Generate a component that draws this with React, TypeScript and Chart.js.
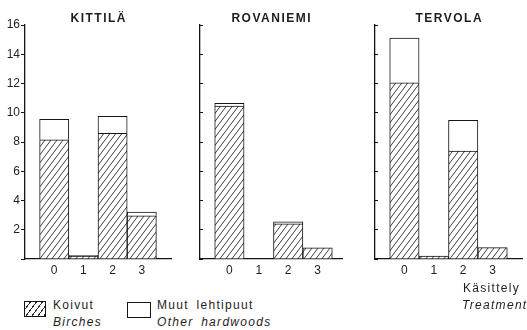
import React, { useEffect, useRef } from "react";
import { Chart, registerables } from "chart.js";

Chart.register(...registerables);

// Treatment codes on the x axis
const treatments = [0, 1, 2, 3];
const siteNames = ["KITTILÄ", "ROVANIEMI", "TERVOLA"];

// Stem counts per treatment: birches (hatched) and other hardwoods (open) stacked on top
const kittilaBirches = [8.15, 0.2, 8.6, 2.95];
const kittilaOther = [1.4, 0.05, 1.15, 0.25];
const rovaniemiBirches = [10.45, null, 2.4, 0.77];
const rovaniemiOther = [0.2, null, 0.15, null];
const tervolaBirches = [12.05, 0.2, 7.38, 0.78];
const tervolaOther = [3.05, null, 2.1, null];

const yMax = 16;
const yStep = 2;

const INK = "#141414";
const TEXT = "#1e1e1e";
const FONT = "'Liberation Sans', Arial, Helvetica, sans-serif";

type PanelLayout = {
  left: number;
  width: number;
  axisWidth: number;
  padRight: number;
  xMax: number;
  showYLabels: boolean;
};

const HEIGHT = 285;
const TOP_PAD = 25;
const X_AXIS_H = 26;

function makeHatch(): CanvasPattern | string {
  const c = document.createElement("canvas");
  const w = 6;
  const h = 8;
  c.width = w;
  c.height = h;
  const g = c.getContext("2d");
  if (!g) return "#fff";
  g.fillStyle = "#fff";
  g.fillRect(0, 0, w, h);
  g.strokeStyle = "#2a2a2a";
  g.lineWidth = 0.9;
  for (const dx of [-w, 0, w]) {
    g.beginPath();
    g.moveTo(dx, h);
    g.lineTo(dx + w, 0);
    g.stroke();
  }
  return g.createPattern(c, "repeat") || "#fff";
}

function SitePanel(props: {
  name: string;
  birches: (number | null)[];
  other: (number | null)[];
  layout: PanelLayout;
}) {
  const { name, birches, other, layout } = props;
  const ref = useRef<HTMLCanvasElement | null>(null);

  useEffect(() => {
    const canvas = ref.current;
    if (!canvas) return;
    const hatch = makeHatch();
    const chart = new Chart(canvas, {
      type: "bar",
      data: {
        datasets: [
          {
            label: "Koivut",
            data: treatments.map((t, i) => ({ x: t, y: birches[i] })) as any,
            backgroundColor: hatch as any,
            borderColor: INK,
            borderWidth: 1,
            barPercentage: 1,
            categoryPercentage: 1,
          },
          {
            label: "Muut lehtipuut",
            data: treatments.map((t, i) => ({ x: t, y: other[i] })) as any,
            backgroundColor: "#ffffff",
            borderColor: INK,
            borderWidth: 1,
            barPercentage: 1,
            categoryPercentage: 1,
          },
        ],
      },
      options: {
        responsive: false,
        animation: false,
        devicePixelRatio: 1,
        events: [],
        layout: {
          padding: { top: TOP_PAD, right: layout.padRight, left: 0, bottom: 0 },
        },
        plugins: {
          legend: { display: false },
          tooltip: { enabled: false },
          title: { display: false },
        },
        scales: {
          x: {
            type: "linear",
            min: -1,
            max: layout.xMax,
            stacked: true,
            offset: false,
            afterBuildTicks: (s: any) => {
              s.ticks = treatments.map((v) => ({ value: v }));
            },
            afterFit: (s: any) => {
              s.height = X_AXIS_H;
            },
            grid: { display: false, drawTicks: false },
            border: { display: true, color: INK, width: 1.3 },
            ticks: {
              padding: 4,
              color: TEXT,
              font: { family: FONT, size: 12 },
              maxRotation: 0,
              autoSkip: false,
            },
          },
          y: {
            min: 0,
            max: yMax,
            stacked: true,
            afterFit: (s: any) => {
              s.width = layout.axisWidth;
            },
            ticks: {
              display: layout.showYLabels,
              stepSize: yStep,
              padding: 1,
              color: TEXT,
              font: { family: FONT, size: 12 },
              callback: (v: any) => (Number(v) === 0 ? "" : String(v)),
            },
            grid: {
              display: true,
              drawOnChartArea: false,
              drawTicks: true,
              tickLength: layout.showYLabels ? 4 : -3,
              color: INK,
              lineWidth: 1,
            },
            border: { display: true, color: INK, width: 1.3 },
          },
        },
      } as any,
    });
    return () => chart.destroy();
  }, [birches, other, layout]);

  const plotLeft = layout.axisWidth;
  const plotRight = layout.width - layout.padRight;
  const center = layout.left + (plotLeft + plotRight) / 2;

  return (
    <>
      <canvas
        ref={ref}
        width={layout.width}
        height={HEIGHT}
        style={{
          position: "absolute",
          left: layout.left,
          top: 0,
          width: layout.width,
          height: HEIGHT,
        }}
      />
      <div
        style={{
          position: "absolute",
          left: center - 70,
          width: 140,
          top: 11,
          lineHeight: "14px",
          textAlign: "center",
          fontSize: 12,
          fontWeight: "bold",
          letterSpacing: "1.5px",
          paddingLeft: "1.5px",
          boxSizing: "border-box",
        }}
      >
        {name}
      </div>
    </>
  );
}

const panelLayouts: PanelLayout[] = [
  { left: 0, width: 180, axisWidth: 25, padRight: 9, xMax: 4, showYLabels: true },
  { left: 180, width: 170, axisWidth: 20, padRight: 8, xMax: 3.83, showYLabels: false },
  { left: 350, width: 177, axisWidth: 25, padRight: 5, xMax: 4, showYLabels: false },
];

const textLine = (
  text: string,
  left: number,
  centerY: number,
  italic = false
): React.ReactElement => (
  <div
    key={text}
    style={{
      position: "absolute",
      left,
      top: centerY - 7,
      lineHeight: "14px",
      fontSize: 12,
      letterSpacing: "1.3px",
      wordSpacing: "3px",
      fontStyle: italic ? "italic" : "normal",
      whiteSpace: "nowrap",
    }}
  >
    {text}
  </div>
);

export default function App() {
  return (
    <div
      style={{
        position: "absolute",
        left: 0,
        top: 0,
        width: 527,
        height: 330,
        background: "#ffffff",
        overflow: "hidden",
        fontFamily: FONT,
        color: TEXT,
      }}
    >
      <SitePanel name={siteNames[0]} birches={kittilaBirches} other={kittilaOther} layout={panelLayouts[0]} />
      <SitePanel name={siteNames[1]} birches={rovaniemiBirches} other={rovaniemiOther} layout={panelLayouts[1]} />
      <SitePanel name={siteNames[2]} birches={tervolaBirches} other={tervolaOther} layout={panelLayouts[2]} />

      {/* legend swatches */}
      <div
        style={{
          position: "absolute",
          left: 24,
          top: 301,
          width: 22,
          height: 16,
          boxSizing: "border-box",
          border: `1.2px solid ${INK}`,
          background:
            "repeating-linear-gradient(127deg, #fff 0px, #fff 3.8px, #2a2a2a 3.8px, #2a2a2a 4.8px)",
        }}
      />
      <div
        style={{
          position: "absolute",
          left: 127,
          top: 302,
          width: 24,
          height: 16,
          boxSizing: "border-box",
          border: `1.2px solid ${INK}`,
          background: "#fff",
        }}
      />
      {textLine("Koivut", 53, 305)}
      {textLine("Birches", 53, 322, true)}
      {textLine("Muut lehtipuut", 157, 305)}
      {textLine("Other hardwoods", 157, 322, true)}
      {textLine("Käsittely", 463, 288)}
      {textLine("Treatment", 462, 305, true)}
    </div>
  );
}
